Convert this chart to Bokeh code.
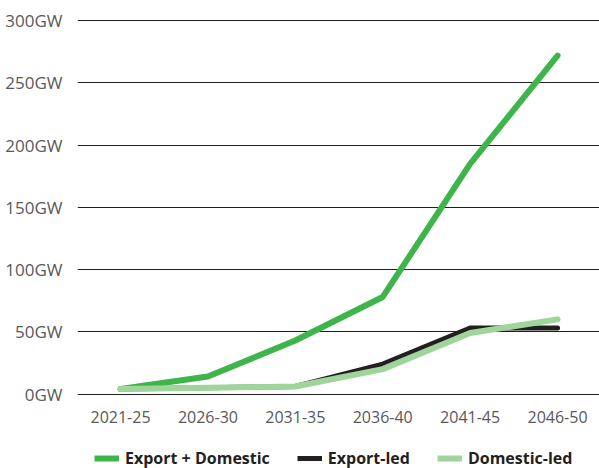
from bokeh.plotting import figure
from bokeh.layouts import column
from bokeh.models import Range1d, FixedTicker, Legend, LegendItem, PrintfTickFormatter, ColumnDataSource
from bokeh.embed import file_html
from bokeh.resources import INLINE

periods = ["2021-25", "2026-30", "2031-35", "2036-40", "2041-45", "2046-50"]
export_domestic = [4, 14, 43, 78, 185, 272]
export_led = [4, 5, 6, 24, 53, 53]
domestic_led = [4, 5, 6, 20, 49, 60]
y_ticks = [0, 50, 100, 150, 200, 250, 300]
series_names = ["Export + Domestic", "Export-led", "Domestic-led"]

FONT = "Open Sans"
idx = list(range(len(periods)))
styles = [("ed", "#3db54a", 6), ("el", "#231f20", 5), ("dl", "#9fd49a", 6)]

p = figure(width=599, height=430, output_backend="svg", toolbar_location=None,
           x_range=Range1d(-0.492, 5.48), y_range=Range1d(-2, 305),
           min_border_left=77, min_border_right=0, min_border_top=14, min_border_bottom=34)
p.outline_line_color = None
p.background_fill_color = "white"
p.border_fill_color = "white"

# axes
p.yaxis.ticker = FixedTicker(ticks=y_ticks)
p.yaxis.formatter = PrintfTickFormatter(format="%dGW")
p.xaxis.ticker = FixedTicker(ticks=idx)
p.xaxis.major_label_overrides = {i: s for i, s in zip(idx, periods)}
for ax in (p.xaxis[0], p.yaxis[0]):
    ax.axis_line_color = None
    ax.major_tick_line_color = None
    ax.minor_tick_line_color = None
    ax.major_label_text_font = FONT
    ax.major_label_text_color = "#58595b"
p.yaxis.major_label_text_font_size = "17px"
p.xaxis.major_label_text_font_size = "16px"
p.yaxis.major_label_standoff = 9
p.xaxis.major_label_standoff = 8

p.xgrid.grid_line_color = None
p.ygrid.ticker = FixedTicker(ticks=y_ticks)
p.ygrid.grid_line_color = "#231f20"
p.ygrid.grid_line_width = 1.2

src = ColumnDataSource(dict(x=idx, ed=export_domestic, el=export_led, dl=domestic_led))
for col, color, w in styles:
    p.line("x", col, source=src, line_color=color, line_width=w, line_cap="round", line_join="round")

# legend strip below the chart
lg = figure(width=599, height=38, output_backend="svg", toolbar_location=None,
            x_range=Range1d(0, 1), y_range=Range1d(0, 1),
            min_border_left=0, min_border_right=0, min_border_top=0, min_border_bottom=0)
lg.axis.visible = False
lg.grid.visible = False
lg.outline_line_color = None
items = []
for (col, color, w), name in zip(styles, series_names):
    r = lg.line("x", col, source=src, line_color=color, line_width=w, visible=False)
    items.append(LegendItem(label=name, renderers=[r]))

legend = Legend(items=items, orientation="horizontal", location=(17, -1),
                glyph_width=25, glyph_height=16, label_height=16,
                label_standoff=6, spacing=27,
                padding=0, margin=0, border_line_color=None,
                background_fill_alpha=0, inactive_fill_alpha=0,
                label_text_font=FONT, label_text_font_size="16px",
                label_text_font_style="bold", label_text_color="#231f20")
lg.add_layout(legend, "center")

layout = column(p, lg, spacing=0)
open("out.html", "w").write(file_html(layout, INLINE))
